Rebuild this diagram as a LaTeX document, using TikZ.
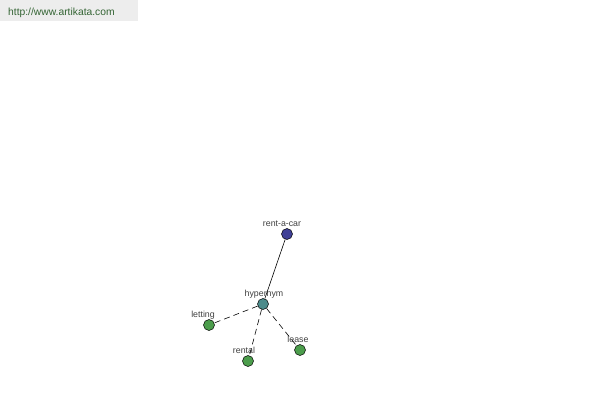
\documentclass[tikz,border=0pt]{standalone}
\usepackage{fontspec}
\setmainfont{Liberation Sans}
\begin{document}
\begin{tikzpicture}[x=1pt,y=-1pt,
  dot/.style={circle,draw=black,line width=0.5pt,minimum size=11pt,inner sep=0pt},
  lbl/.style={font=\fontsize{8.8}{10}\selectfont,text=black!75,inner sep=0pt,anchor=base},
  rel/.style={line width=0.6pt,black},
  reldash/.style={rel,dash pattern=on 6pt off 4pt}]
\useasboundingbox (0,0) rectangle (600,400);
\fill[black!7] (0,0) rectangle (138,21);
\node[font=\fontsize{10.3}{12}\selectfont,text=black!40!green!40!black!80,anchor=base west,inner sep=0pt] (url) at (8,15.5) {http://www.artikata.com};
\node[dot,fill=blue!45!black!75] (car) at (287,234) {};
\node[dot,fill=teal!70!black!70] (hyp) at (263,304) {};
\node[dot,fill=green!45!black!70] (let) at (209,325) {};
\node[dot,fill=green!45!black!70] (ren) at (248,361) {};
\node[dot,fill=green!45!black!70] (lea) at (300,350) {};
\node[lbl] (tcar) at (282,226) {rent-a-car};
\node[lbl] (thyp) at (264,296) {hypernym};
\node[lbl] (tlet) at (203,317) {letting};
\node[lbl] (tren) at (244,353) {rental};
\node[lbl] (tlea) at (298,342) {lease};
\draw[rel] (hyp) -- (car);
\draw[reldash] (hyp) -- (let);
\draw[reldash] (hyp) -- (ren);
\draw[reldash] (hyp) -- (lea);
\end{tikzpicture}
\end{document}
